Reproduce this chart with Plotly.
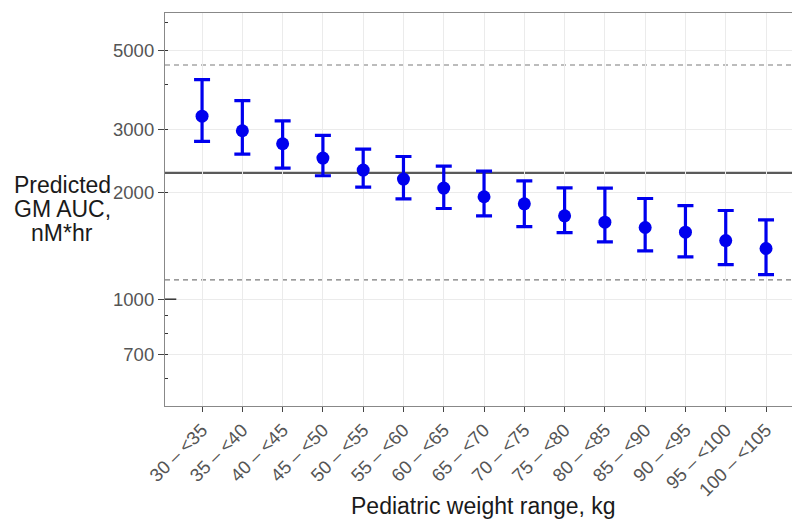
import plotly.graph_objects as go

categories = ["30 – <35", "35 – <40", "40 – <45", "45 – <50", "50 – <55", "55 – <60",
              "60 – <65", "65 – <70", "70 – <75", "75 – <80", "80 – <85", "85 – <90",
              "90 – <95", "95 – <100", "100 – <105"]
gm_auc = [3268, 2973, 2733, 2491, 2305, 2175, 2052, 1940, 1853, 1715, 1646, 1590, 1543, 1461, 1388]
upper = [4136, 3614, 3171, 2884, 2641, 2517, 2366, 2291, 2151, 2056, 2052, 1918, 1833, 1775, 1671]
lower = [2774, 2557, 2335, 2222, 2065, 1914, 1798, 1715, 1600, 1539, 1449, 1367, 1315, 1251, 1173]
ref_solid = 2265
ref_dashed = [4549, 1133]
y_ticks = [700, 1000, 2000, 3000, 5000]
minor_ticks = [600, 700, 800, 900, 2000, 3000, 4000, 5000, 6000]
y_title_lines = ["Predicted", "GM AUC,", "nM*hr"]
x_title = "Pediatric weight range, kg"

idx = list(range(len(categories)))
fig = go.Figure()
fig.add_trace(go.Scatter(
    x=idx, y=gm_auc, mode="markers",
    marker=dict(color="#0000ee", size=13),
    error_y=dict(type="data", symmetric=False,
                 array=[u - m for u, m in zip(upper, gm_auc)],
                 arrayminus=[m - l for m, l in zip(gm_auc, lower)],
                 color="#0000ee", thickness=3.2, width=8),
    showlegend=False))

fig.add_hline(y=ref_solid, line=dict(color="#5a5a5a", width=2.2), layer="below")
for v in ref_dashed:
    fig.add_hline(y=v, line=dict(color="#7a7a7a", width=1.2, dash="5px,4px"), layer="below")

# long log tick at 1000
fig.add_shape(type="line", xref="paper", yref="y", x0=0, x1=0.018, y0=1000, y1=1000,
              line=dict(color="#333333", width=1.5))

annotations = []
for i, line in enumerate(y_title_lines):
    annotations.append(dict(
        text=line, xref="paper", yref="paper",
        x=-0.1635, y=0.5623 - i * 0.061, xanchor="center", yanchor="middle", showarrow=False,
        font=dict(size=23, color="#1a1a1a")))
annotations.append(dict(
    text=x_title, xref="paper", yref="paper", x=0.508, y=-0.254,
    xanchor="center", yanchor="middle", showarrow=False,
    font=dict(size=23, color="#1a1a1a")))

fig.update_layout(
    width=792, height=519,
    margin=dict(l=165, r=0, t=13, b=113),
    plot_bgcolor="white", paper_bgcolor="white",
    font=dict(family="Liberation Sans, Arial, sans-serif", color="#4d4d4d"),
    xaxis=dict(
        tickmode="array", tickvals=idx, ticktext=categories,
        range=[-0.92, 14.645], tickangle=-45,
        tickfont=dict(size=18.5, color="#555555"),
        showgrid=True, gridcolor="#ebebeb", gridwidth=1,
        ticks="outside", ticklen=5, tickcolor="#444444",
        showline=True, linecolor="#888888", linewidth=1.2, mirror=True,
        zeroline=False,
    ),
    yaxis=dict(
        type="log", range=[2.700, 3.804],
        tickmode="array", tickvals=y_ticks, ticktext=[str(v) for v in y_ticks],
        tickfont=dict(size=18.5, color="#555555"),
        showgrid=True, gridcolor="#ebebeb", gridwidth=1,
        ticks="outside", ticklen=6, tickcolor="#444444",
        minor=dict(tickmode="array", tickvals=minor_ticks, ticks="inside", ticklen=3,
                   tickcolor="#333333", showgrid=False),
        showline=True, linecolor="#888888", linewidth=1.2, mirror=True,
        zeroline=False,
    ),
    annotations=annotations,
)

fig.write_html("out.html")
